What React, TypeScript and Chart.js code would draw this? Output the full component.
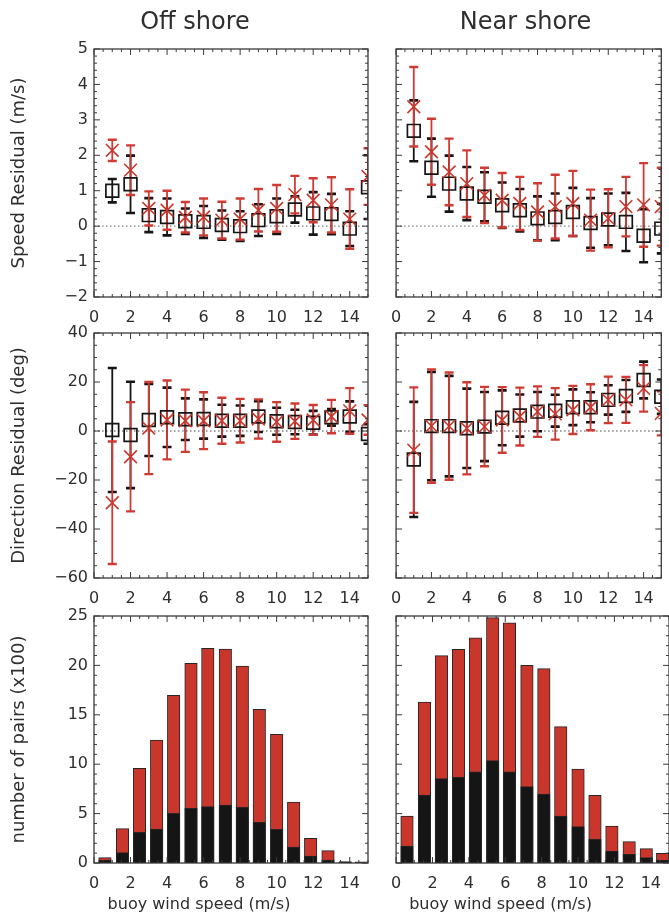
import React, { useEffect, useRef } from 'react';
import { Chart, registerables } from 'chart.js';

Chart.register(...registerables);

const FONT = "'DejaVu Sans', 'Liberation Sans', sans-serif";
const TEXT = '#2e2e2e';
const FRAME = '#3a3a3a';
const RED = '#c9372c';
const RED_ERR = '#cf3b33';
const BLACK = '#151515';

Chart.defaults.font.family = FONT;
Chart.defaults.color = TEXT;

// ---------- data ----------
const windBins = [1, 2, 3, 4, 5, 6, 7, 8, 9, 10, 11, 12, 13, 14, 15];
const xTicks = [0, 2, 4, 6, 8, 10, 12, 14];
const speedYTicks = [-2, -1, 0, 1, 2, 3, 4, 5];
const dirYTicks = [-60, -40, -20, 0, 20, 40];
const countYTicks = [0, 5, 10, 15, 20, 25];
const panelTitles = ['Off shore', 'Near shore'];
const xTitle = 'buoy wind speed (m/s)';
const yTitles = ['Speed Residual (m/s)', 'Direction Residual (deg)', 'number of pairs (x100)'];

// Off shore, speed residual (m/s)
const offSpeedBlack = [1.0, 1.18, 0.31, 0.26, 0.14, 0.12, 0.03, 0.0, 0.17, 0.28, 0.47, 0.36, 0.34, -0.07, 1.1];
const offSpeedBlackErr = [0.33, 0.81, 0.48, 0.52, 0.36, 0.45, 0.41, 0.42, 0.45, 0.5, 0.37, 0.6, 0.57, 0.49, 0.9];
const offSpeedRed = [2.14, 1.58, 0.5, 0.45, 0.25, 0.26, 0.17, 0.2, 0.45, 0.5, 0.89, 0.73, 0.6, 0.2, 1.4];
const offSpeedRedErr = [0.3, 0.7, 0.48, 0.55, 0.43, 0.52, 0.52, 0.58, 0.6, 0.66, 0.53, 0.62, 0.78, 0.84, 0.8];

// Near shore, speed residual (m/s)
const nearSpeedBlack = [2.69, 1.65, 1.2, 0.92, 0.83, 0.59, 0.45, 0.22, 0.26, 0.4, 0.09, 0.19, 0.12, -0.27, -0.07];
const nearSpeedBlackErr = [0.86, 0.82, 0.79, 0.75, 0.69, 0.64, 0.6, 0.62, 0.66, 0.68, 0.7, 0.73, 0.82, 0.75, 0.7];
const nearSpeedRed = [3.37, 2.1, 1.53, 1.2, 0.87, 0.73, 0.64, 0.4, 0.55, 0.64, 0.17, 0.22, 0.55, 0.6, 0.55];
const nearSpeedRedErr = [1.12, 0.93, 0.94, 0.94, 0.78, 0.77, 0.75, 0.81, 0.9, 0.92, 0.86, 0.82, 0.84, 1.18, 1.1];

// Off shore, direction residual (deg)
const offDirBlack = [0.4, -1.6, 4.5, 5.6, 4.8, 4.9, 4.2, 4.2, 5.9, 4.0, 3.7, 3.4, 5.6, 5.9, -1.2];
const offDirBlackErr = [25.3, 21.7, 14.7, 12.1, 8.5, 8.0, 6.5, 6.2, 6.3, 5.5, 5.0, 4.8, 3.4, 6.2, 4.0];
const offDirRed = [-29.3, -10.5, 1.2, 4.5, 4.2, 4.2, 4.2, 4.2, 4.9, 3.7, 4.0, 4.5, 5.9, 8.2, 4.5];
const offDirRedErr = [25.0, 22.3, 18.8, 16.1, 12.7, 11.6, 9.4, 8.9, 8.0, 8.1, 7.2, 6.1, 6.8, 9.3, 6.0];

// Near shore, direction residual (deg)
const nearDirBlack = [-11.6, 2.0, 2.0, 1.1, 1.8, 5.4, 6.3, 7.9, 8.3, 9.7, 9.7, 12.7, 14.3, 20.8, 14.0];
const nearDirBlackErr = [23.5, 22.1, 20.5, 16.2, 14.1, 11.2, 8.6, 8.0, 6.5, 7.3, 6.1, 6.0, 6.5, 7.5, 7.0];
const nearDirRed = [-7.8, 2.0, 2.0, 1.1, 1.8, 4.5, 5.9, 7.9, 7.0, 8.6, 9.7, 12.7, 12.7, 17.4, 7.2];
const nearDirRedErr = [25.6, 23.1, 21.9, 18.8, 16.2, 13.4, 11.8, 10.3, 10.5, 9.8, 9.4, 9.5, 9.4, 9.5, 9.0];

// Histogram of pairs (x100)
const histCentres = [0.6, 1.56, 2.49, 3.43, 4.36, 5.31, 6.23, 7.19, 8.12, 9.05, 10.0, 10.93, 11.86, 12.81, 13.75, 14.65];
const offPairsRed = [0.54, 3.48, 9.58, 12.45, 16.97, 20.2, 21.73, 21.66, 19.94, 15.55, 13.02, 6.17, 2.5, 1.25, 0.15, 0.12];
const offPairsBlack = [0.3, 1.05, 3.1, 3.44, 5.03, 5.53, 5.7, 5.87, 5.63, 4.12, 3.41, 1.62, 0.71, 0.3, 0.07, 0.04];
const nearPairsRed = [4.76, 16.3, 20.99, 21.63, 22.8, 24.83, 24.3, 20.0, 19.67, 13.8, 9.51, 6.85, 3.74, 2.16, 1.45, 0.98];
const nearPairsBlack = [1.72, 6.88, 8.54, 8.67, 9.24, 10.36, 9.24, 7.73, 6.98, 4.76, 3.68, 2.4, 1.21, 0.88, 0.54, 0.3];

// ---------- layout ----------
const ROWS = [
  { top: 0, height: 330, padTop: 0, xAxisH: 33 },
  { top: 310, height: 320, padTop: 23, xAxisH: 52 },
  { top: 590, height: 327, padTop: 26, xAxisH: 54 },
];
const COLS = [
  { left: 0, width: 390, yAxisW: 94, rightW: 22, padRight: 0 },
  { left: 380, width: 292, yAxisW: 15, rightW: 0, padRight: 1 },
];

const fmt = (v: number) => (v < 0 ? '\u2212' + Math.abs(v) : String(v));

type Series = { xs: number[]; mean: number[]; err: number[]; color: string; lw: number; capLw: number; cap: number };

function framePlugin(yMajor: number[], yMinor: number) {
  return {
    id: 'idlFrame',
    afterDatasetsDraw(chart: any) {
      const { ctx, chartArea: a } = chart;
      const xs = chart.scales.x;
      const ys = chart.scales.y;
      ctx.save();
      ctx.strokeStyle = FRAME;
      ctx.lineWidth = 1;
      ctx.beginPath();
      const isMajor = (v: number, list: number[]) => list.some((m) => Math.abs(m - v) < 1e-6);
      for (let v = xs.min; v <= xs.max + 1e-6; v += 0.5) {
        const px = xs.getPixelForValue(v);
        const len = isMajor(v, xTicks) ? 6 : 3;
        ctx.moveTo(px, a.bottom);
        ctx.lineTo(px, a.bottom - len);
        ctx.moveTo(px, a.top);
        ctx.lineTo(px, a.top + len);
      }
      for (let v = ys.min; v <= ys.max + 1e-6; v += yMinor) {
        const py = ys.getPixelForValue(v);
        const len = isMajor(v, yMajor) ? 6 : 3;
        ctx.moveTo(a.left, py);
        ctx.lineTo(a.left + len, py);
        ctx.moveTo(a.right, py);
        ctx.lineTo(a.right - len, py);
      }
      ctx.stroke();
      ctx.lineWidth = 1.3;
      ctx.strokeRect(a.left, a.top, a.right - a.left, a.bottom - a.top);
      ctx.restore();
    },
  };
}

function xTitlePlugin(text: string, shift: number) {
  return {
    id: 'xTitleShifted',
    afterDraw(chart: any) {
      const { ctx, chartArea: a, height } = chart;
      ctx.save();
      ctx.font = `16px ${FONT}`;
      ctx.fillStyle = TEXT;
      ctx.textAlign = 'center';
      ctx.textBaseline = 'middle';
      ctx.fillText(text, (a.left + a.right) / 2 + shift, height - 12);
      ctx.restore();
    },
  };
}

function errorPlugin(series: Series[]) {
  return {
    id: 'errBars',
    beforeDatasetsDraw(chart: any) {
      const { ctx, chartArea: a } = chart;
      const xs = chart.scales.x;
      const ys = chart.scales.y;
      ctx.save();
      ctx.beginPath();
      ctx.rect(a.left, a.top, a.right - a.left, a.bottom - a.top);
      ctx.clip();
      const y0 = ys.getPixelForValue(0);
      ctx.strokeStyle = '#808080';
      ctx.lineWidth = 1.3;
      ctx.setLineDash([1.5, 2.5]);
      ctx.beginPath();
      ctx.moveTo(a.left, y0);
      ctx.lineTo(a.right, y0);
      ctx.stroke();
      ctx.setLineDash([]);
      for (const s of series) {
        ctx.strokeStyle = s.color;
        s.xs.forEach((xv, i) => {
          const px = xs.getPixelForValue(xv);
          const t = ys.getPixelForValue(s.mean[i] + s.err[i]);
          const b = ys.getPixelForValue(s.mean[i] - s.err[i]);
          ctx.lineWidth = s.lw;
          ctx.beginPath();
          ctx.moveTo(px, t);
          ctx.lineTo(px, b);
          ctx.stroke();
          ctx.lineWidth = s.capLw;
          ctx.beginPath();
          ctx.moveTo(px - s.cap, t);
          ctx.lineTo(px + s.cap, t);
          ctx.moveTo(px - s.cap, b);
          ctx.lineTo(px + s.cap, b);
          ctx.stroke();
        });
      }
      ctx.restore();
    },
  };
}

function baseScales(col: number, row: number, yMin: number, yMax: number, yTicks: number[]) {
  const c = COLS[col];
  const r = ROWS[row];
  const scales: any = {
    x: {
      type: 'linear',
      min: 0,
      max: 15,
      offset: false,
      afterBuildTicks: (s: any) => {
        s.ticks = xTicks.map((value) => ({ value }));
      },
      afterFit: (s: any) => {
        s.height = r.xAxisH;
      },
      grid: { display: false, drawTicks: false },
      border: { display: false },
      ticks: { font: { size: 16 }, color: TEXT, padding: 11, maxRotation: 0, autoSkip: false, callback: (v: any) => fmt(Number(v)) },
      title: { display: false },
    },
    y: {
      type: 'linear',
      position: 'left',
      min: yMin,
      max: yMax,
      afterBuildTicks: (s: any) => {
        s.ticks = yTicks.map((value) => ({ value }));
      },
      afterFit: (s: any) => {
        s.width = c.yAxisW;
      },
      grid: { display: false, drawTicks: false },
      border: { display: false },
      ticks: { display: col === 0, font: { size: 16 }, color: TEXT, padding: 6, autoSkip: false, callback: (v: any) => fmt(Number(v)) },
      title:
        col === 0
          ? { display: true, text: yTitles[row], font: { size: 18 }, color: TEXT, padding: { top: 9, bottom: 0 } }
          : { display: false },
    },
  };
  if (c.rightW > 0) {
    scales.yR = {
      type: 'linear',
      position: 'right',
      display: true,
      grid: { display: false, drawTicks: false },
      border: { display: false },
      ticks: { display: false },
      afterFit: (s: any) => {
        s.width = c.rightW;
      },
    };
  }
  return scales;
}

function baseOptions(col: number, row: number, scales: any) {
  const c = COLS[col];
  const r = ROWS[row];
  return {
    responsive: false,
    maintainAspectRatio: false,
    animation: false,
    devicePixelRatio: 1,
    events: [],
    layout: { padding: { top: r.padTop, right: c.padRight, left: 0, bottom: 0 } },
    plugins: {
      legend: { display: false },
      tooltip: { enabled: false },
      title:
        row === 0
          ? {
              display: true,
              text: panelTitles[col],
              font: { size: 24, weight: 'normal' },
              color: TEXT,
              padding: { top: 8, bottom: 12.2 },
            }
          : { display: false },
    },
    scales,
  };
}

function residualConfig(
  col: number,
  row: number,
  yMin: number,
  yMax: number,
  yTicks: number[],
  yMinor: number,
  black: number[],
  blackErr: number[],
  red: number[],
  redErr: number[]
) {
  const scales = baseScales(col, row, yMin, yMax, yTicks);
  return {
    type: 'scatter',
    data: {
      datasets: [
        {
          label: 'red',
          data: windBins.map((x, i) => ({ x, y: red[i] })),
          showLine: false,
          pointStyle: 'crossRot',
          pointRadius: 9,
          pointBorderColor: RED,
          pointBackgroundColor: RED,
          pointBorderWidth: 1.6,
          clip: 0,
          order: 0,
        },
        {
          label: 'black',
          data: windBins.map((x, i) => ({ x, y: black[i] })),
          showLine: false,
          pointStyle: 'rect',
          pointRadius: 9,
          pointBorderColor: BLACK,
          pointBackgroundColor: 'rgba(0,0,0,0)',
          pointBorderWidth: 1.7,
          clip: 0,
          order: 1,
        },
      ],
    },
    options: baseOptions(col, row, scales),
    plugins: [
      errorPlugin([
        { xs: windBins, mean: black, err: blackErr, color: BLACK, lw: 1.8, capLw: 2.6, cap: 4.5 },
        { xs: windBins, mean: red, err: redErr, color: RED_ERR, lw: 1.8, capLw: 2.4, cap: 4.5 },
      ]),
      framePlugin(yTicks, yMinor),
    ],
  };
}

function histConfig(col: number, redVals: number[], blackVals: number[]) {
  const row = 2;
  const scales = baseScales(col, row, 0, 25, countYTicks);
  return {
    type: 'bar',
    data: {
      datasets: [
        {
          label: 'black',
          data: histCentres.map((x, i) => ({ x, y: blackVals[i] })),
          backgroundColor: BLACK,
          borderColor: '#262626',
          borderWidth: 1,
          barThickness: 12.5,
          grouped: false,
          order: 0,
        },
        {
          label: 'red',
          data: histCentres.map((x, i) => ({ x, y: redVals[i] })),
          backgroundColor: RED,
          borderColor: '#262626',
          borderWidth: 1,
          barThickness: 12.5,
          grouped: false,
          order: 1,
        },
      ],
    },
    options: baseOptions(col, row, scales),
    plugins: [framePlugin(countYTicks, 1), xTitlePlugin(xTitle, -32)],
  };
}

function Panel({ col, row, config }: { col: number; row: number; config: any }) {
  const ref = useRef<HTMLCanvasElement>(null);
  const c = COLS[col];
  const r = ROWS[row];
  useEffect(() => {
    const chart = new Chart(ref.current as HTMLCanvasElement, config);
    return () => chart.destroy();
  }, []);
  return (
    <div style={{ position: 'absolute', left: c.left, top: r.top, width: c.width, height: r.height }}>
      <canvas ref={ref} width={c.width} height={r.height} style={{ display: 'block', width: c.width, height: r.height }} />
    </div>
  );
}

export default function App() {
  return (
    <div
      style={{
        position: 'fixed',
        left: 0,
        top: 0,
        width: 669,
        height: 917,
        overflow: 'hidden',
        background: '#ffffff',
      }}
    >
      <Panel col={0} row={0} config={residualConfig(0, 0, -2, 5, speedYTicks, 0.2, offSpeedBlack, offSpeedBlackErr, offSpeedRed, offSpeedRedErr)} />
      <Panel col={1} row={0} config={residualConfig(1, 0, -2, 5, speedYTicks, 0.2, nearSpeedBlack, nearSpeedBlackErr, nearSpeedRed, nearSpeedRedErr)} />
      <Panel col={0} row={1} config={residualConfig(0, 1, -60, 40, dirYTicks, 5, offDirBlack, offDirBlackErr, offDirRed, offDirRedErr)} />
      <Panel col={1} row={1} config={residualConfig(1, 1, -60, 40, dirYTicks, 5, nearDirBlack, nearDirBlackErr, nearDirRed, nearDirRedErr)} />
      <Panel col={0} row={2} config={histConfig(0, offPairsRed, offPairsBlack)} />
      <Panel col={1} row={2} config={histConfig(1, nearPairsRed, nearPairsBlack)} />
    </div>
  );
}
